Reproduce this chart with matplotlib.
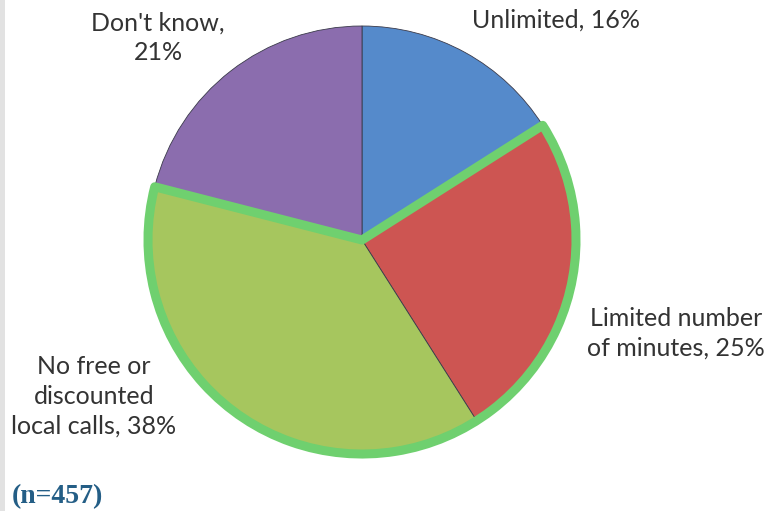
import matplotlib.pyplot as plt
from matplotlib.patches import Wedge, Rectangle

# Survey answers, clockwise from 12 o'clock
labels = ["Unlimited, 16%", "Limited number\nof minutes, 25%",
          "No free or\ndiscounted\nlocal calls, 38%", "Don't know,\n21%"]
shares = [16, 25, 38, 21]
colors = ["#558ACB", "#CD5552", "#A6C65E", "#8B6DAE"]
sample_note = "(n=457)"

W, H = 769, 511
fig = plt.figure(figsize=(W / 100, H / 100), dpi=100)
ax = fig.add_axes([0, 0, 1, 1])

cx, cy, r = 362, H - 240, 214

ax.pie(shares, colors=colors, startangle=90, counterclock=False,
       center=(cx, cy), radius=r, frame=True,
       wedgeprops=dict(edgecolor="#3a3a4a", linewidth=0.6))
ax.set_xlim(0, W)
ax.set_ylim(0, H)
ax.set_aspect("equal")
ax.axis("off")

# green outline around the two highlighted slices
total = sum(shares)
a_start = 90 - 360 * shares[0] / total
a_end = 90 - 360 * (shares[0] + shares[1] + shares[2]) / total
ax.add_patch(Wedge((cx, cy), r, a_end, a_start, fill=False,
                   edgecolor="#6FD06F", linewidth=6.5, joinstyle="round"))

# light grey strip at the left edge
ax.add_patch(Rectangle((0, 0), 5, H, facecolor="#E2E2E2", edgecolor="none"))

font = "Lato"
fs = 18
txt = dict(ha="center", va="center", fontsize=fs, family=font,
           color="#333333", linespacing=1.35)
ax.text(556, H - 20, labels[0], **txt)
ax.text(676, H - 333, labels[1], **txt)
ax.text(94, H - 396, labels[2], **txt)
ax.text(158, H - 38, labels[3], **txt)

ax.text(12, H - 497, sample_note, ha="left", va="center", fontsize=20,
        family="Liberation Serif", weight="bold", color="#245E86")

fig.savefig("out.png", dpi=100)
